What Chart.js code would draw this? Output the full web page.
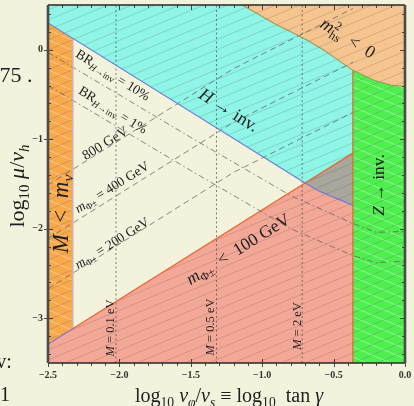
<!DOCTYPE html>
<html lang="en">
<head>
<meta charset="UTF-8">
<title>Parameter space</title>
<script src="https://cdn.jsdelivr.net/npm/chart.js"></script>
<style>
  html, body { margin: 0; padding: 0; background: #f3f2dd; overflow: hidden; }
</style>
</head>
<body>
<canvas id="grafico" width="414" height="406"></canvas>
<script>
// eixos: x = log10 tan(gamma), y = log10 mu/v_h
const limitesX = [-2.5, 0];
const limitesY = [-3.5, 0.5];
const ticksX = [-2.5, -2.0, -1.5, -1.0, -0.5, 0.0];
const ticksY = [-3, -2, -1, 0];

// fronteira H -> inv. (linha azul)
const azulX = [-2.5, -0.70, -0.60, -0.50, -0.42, -0.365];
const azulY = [0.30, -1.49, -1.58, -1.65, -1.70, -1.74];
// fronteira m_phi < 100 GeV (linha vermelha)
const vermelhoX = [-2.325, -0.70, -0.365];
const vermelhoY = [-3.115, -1.49, -1.155];
// fronteira m_hs^2 < 0
const hsX = [-1.14, -0.90, -0.80, -0.684, -0.567, -0.45, -0.364, -0.217, -0.10, 0.0];
const hsY = [0.5, 0.28, 0.20, 0.105, -0.005, -0.135, -0.23, -0.34, -0.395, -0.41];
// Z -> inv. e M < m_nu
const zX = -0.365;
const faixaX = [-2.5, -2.325, -2.325, -2.5];
const faixaY = [0.30, 0.126, -3.115, -3.29];
// sobreposicao (cinza)
const cinzaX = [-0.70, -0.365, -0.365, -0.42, -0.50, -0.60];
const cinzaY = [-1.49, -1.155, -1.74, -1.70, -1.65, -1.58];

// linhas de M constante
const massasM = ['0.1', '0.5', '2'];
const massasX = [-2.024, -1.32, -0.72];

// linhas de m_phi constante
const mphi200X = [-2.5, -1.2, -0.365];
const mphi200Y = [-2.67, -1.37, -0.70];
const mphi400X = [-2.5, -1.2, -0.365];
const mphi400Y = [-2.11, -0.81, -0.14];
const mphi800X = [-2.5, -1.2, -0.365];
const mphi800Y = [-1.51, -0.21, 0.46];

// BR(H -> inv)
const br10X = [-2.5, -1.5, -0.8, -0.365, -0.2, 0.0];
const br10Y = [-0.03, -0.98, -1.63, -1.94, -2.04, -2.03];
const br1X = [-2.5, -1.5, -0.8, -0.365, -0.2, 0.0];
const br1Y = [-0.40, -1.35, -2.0, -2.30, -2.38, -2.36];

function pontos(xs, ys) {
    return xs.map(function (x, i) { return { x: x, y: ys[i] }; });
}

function hachura(base, malha) {
    const w = 24, h = 10;
    const c = document.createElement('canvas');
    c.width = w; c.height = h;
    const g = c.getContext('2d');
    g.fillStyle = base;
    g.fillRect(0, 0, w, h);
    if (malha) {
        g.strokeStyle = 'rgba(255,255,255,0.45)';
        g.lineWidth = 0.8;
        for (const dy of [-h, 0, h]) {
            g.beginPath(); g.moveTo(0, dy); g.lineTo(w, h + dy); g.stroke();
        }
    }
    g.strokeStyle = 'rgba(80,80,80,0.25)';
    g.lineWidth = 0.8;
    for (const dy of [-h, 0, h]) {
        g.beginPath(); g.moveTo(0, h + dy); g.lineTo(w, dy); g.stroke();
    }
    return g.createPattern(c, 'repeat');
}

function regiao(dados, cor, ordem) {
    return { data: dados, showLine: true, fill: 'shape', backgroundColor: cor, borderWidth: 0, pointRadius: 0, order: ordem };
}

function linha(dados, cor, largura, traco, ordem) {
    return { data: dados, showLine: true, fill: false, borderColor: cor, borderWidth: largura, borderDash: traco, pointRadius: 0, order: ordem };
}

const datasets = [];
// regioes (ordem maior = desenhada antes)
datasets.push(regiao(pontos([limitesX[0], zX], [limitesY[1], limitesY[1]]).concat(pontos(azulX, azulY).reverse()), hachura('#8ff5e7', false), 30));
datasets.push(regiao(pontos([limitesX[0], zX, zX, faixaX[3]], [limitesY[0], limitesY[0], vermelhoY[2], faixaY[3]]), hachura('#f3a797', false), 29));
datasets.push(regiao(pontos(cinzaX, cinzaY), hachura('#a9a69c', false), 28));
datasets.push(regiao(pontos([zX, limitesX[1], limitesX[1], zX], [limitesY[0], limitesY[0], limitesY[1], limitesY[1]]), hachura('#50ef50', true), 27));
datasets.push(regiao(pontos(hsX, hsY).concat([{ x: limitesX[1], y: limitesY[1] }]), hachura('#f6c48e', false), 26));
datasets.push(regiao(pontos(faixaX, faixaY), hachura('#f9a94a', true), 25));

// linhas de referencia
massasX.forEach(function (x) {
    datasets.push(linha(pontos([x, x], limitesY), 'rgba(70,70,70,0.75)', 0.9, [2, 2.5], 15));
});
[[mphi200X, mphi200Y], [mphi400X, mphi400Y], [mphi800X, mphi800Y]].forEach(function (l) {
    datasets.push(linha(pontos(l[0], l[1]), 'rgba(90,90,90,0.8)', 0.9, [6, 4], 14));
});
[[br10X, br10Y], [br1X, br1Y]].forEach(function (l) {
    datasets.push(linha(pontos(l[0], l[1]), 'rgba(90,90,90,0.8)', 0.9, [6, 3, 1.5, 3], 14));
});

// bordas
datasets.push(linha(pontos(vermelhoX, vermelhoY), '#f0602a', 1.2, [], 5));
datasets.push(linha(pontos([faixaX[3], faixaX[2]], [faixaY[3], faixaY[2]]), '#8a72c4', 1.2, [], 5));
datasets.push(linha(pontos([faixaX[1], faixaX[2]], [faixaY[1], faixaY[2]]), '#bdb8d4', 1.2, [], 5));
datasets.push(linha(pontos(azulX, azulY), '#6b7fd6', 1.2, [], 4));
datasets.push(linha(pontos([zX, zX], [limitesY[0], -0.23]), '#e8642c', 1.2, [], 4));
datasets.push(linha(pontos(hsX, hsY), '#a39a55', 1.1, [], 4));

// textos dentro do grafico (pixel do centro, angulo em graus)
const rotulos = [
    { partes: [['BR', 'r'], ['H', 'bi'], ['→inv', 'b'], [' = 10%', 'r']], x: 113, y: 75, ang: 32, tam: 13.5 },
    { partes: [['BR', 'r'], ['H', 'bi'], ['→inv', 'b'], [' = 1%', 'r']], x: 113, y: 110, ang: 32, tam: 13.5 },
    { partes: [['800 GeV', 'r']], x: 105, y: 143, ang: -32, tam: 14 },
    { partes: [['m', 'i'], ['Φ±', 'b'], [' = 400 GeV', 'r']], x: 112, y: 187, ang: -32, tam: 13.5 },
    { partes: [['m', 'i'], ['Φ±', 'b'], [' = 200 GeV', 'r']], x: 112, y: 243, ang: -32, tam: 13.5 },
    { partes: [['m', 'i'], ['Φ±', 'b'], ['  <  100 GeV', 'r']], x: 238, y: 249, ang: -32, tam: 17.5 },
    { partes: [['H', 'i'], [' → inv.', 'r']], x: 229, y: 110, ang: 32, tam: 18 },
    { partes: [['m', 'i'], ['2', 'p0'], ['hs', 'b'], ['  <  0', 'r']], x: 348, y: 38, ang: 32, tam: 18 },
    { partes: [['Z', 'i'], [' → inv.', 'r']], x: 378, y: 185, ang: -90, tam: 17.5 },
    { partes: [['M', 'i'], ['  <  ', 'r'], ['m', 'i'], ['ν', 'bi']], x: 61, y: 214, ang: -90, tam: 23 },
    { partes: [['M', 'i'], [' = ' + massasM[0] + ' eV', 'r']], x: 110, y: 328, ang: -90, tam: 12.5 },
    { partes: [['M', 'i'], [' = ' + massasM[1] + ' eV', 'r']], x: 210, y: 327, ang: -90, tam: 12.5 },
    { partes: [['M', 'i'], [' = ' + massasM[2] + ' eV', 'r']], x: 297, y: 326, ang: -90, tam: 12.5 },
    { partes: [['log', 'r'], ['10', 'b'], [' μ', 'i'], ['/', 'r'], ['v', 'i'], ['h', 'bi']], x: 17, y: 186, ang: -90, tam: 22 },
    { partes: [['log', 'r'], ['10', 'b'], [' v', 'i'], ['φ', 'bi'], ['/', 'r'], ['v', 'i'], ['s', 'bi'], [' ≡ log', 'r'], ['10', 'b'], ['  tan ', 'r'], ['γ', 'i']], x: 229, y: 396, ang: 0, tam: 20 },
    // restos do texto da pagina
    { partes: [['75 .', 'r']], x: 16, y: 75, ang: 0, tam: 22 },
    { partes: [['v:', 'r']], x: 4, y: 362, ang: 0, tam: 20 },
    { partes: [['1', 'r']], x: 5, y: 395, ang: 0, tam: 20 }
];

function desenharTexto(ctx, partes, cx, cy, ang, tam) {
    const fam = '"Liberation Serif", "DejaVu Serif", serif';
    function fonte(st) {
        const it = st.indexOf('i') >= 0 ? 'italic ' : '';
        const sz = (st[0] === 'b' || st[0] === 'p') ? tam * 0.68 : tam;
        return it + sz.toFixed(1) + 'px ' + fam;
    }
    ctx.save();
    let w = 0;
    const med = partes.map(function (p) {
        ctx.font = fonte(p[1]);
        const m = ctx.measureText(p[0]).width;
        if (p[1] !== 'p0') w += m;
        return m;
    });
    ctx.translate(cx, cy);
    ctx.rotate(ang * Math.PI / 180);
    ctx.fillStyle = '#1e1e1e';
    ctx.textBaseline = 'alphabetic';
    ctx.textAlign = 'left';
    let x = -w / 2;
    const base = tam * 0.32;
    partes.forEach(function (p, i) {
        ctx.font = fonte(p[1]);
        let dy = 0;
        if (p[1][0] === 'b') dy = tam * 0.22;
        if (p[1][0] === 'p') dy = -tam * 0.38;
        ctx.fillText(p[0], x, base + dy);
        if (p[1] !== 'p0') x += med[i];
    });
    ctx.restore();
}

const moldura = {
    id: 'moldura',
    beforeDraw(chart) {
        const ctx = chart.ctx;
        ctx.save();
        ctx.fillStyle = '#f3f2dd';
        ctx.fillRect(0, 0, chart.width, chart.height);
        ctx.restore();
    },
    afterDraw(chart) {
        const ctx = chart.ctx;
        const a = chart.chartArea;
        const sx = chart.scales.x, sy = chart.scales.y;
        ctx.save();
        ctx.strokeStyle = '#222';
        ctx.lineWidth = 0.8;
        // ticks x a cada 0.1
        for (let i = 0; i <= 25; i++) {
            const v = -2.5 + i * 0.1;
            const px = Math.round(sx.getPixelForValue(v)) + 0.5;
            const maior = i % 5 === 0;
            ctx.beginPath();
            ctx.moveTo(px, a.bottom); ctx.lineTo(px, a.bottom + (maior ? 4 : 3));
            ctx.moveTo(px, a.top); ctx.lineTo(px, a.top + (maior ? 5 : 3));
            if (maior) { ctx.moveTo(px, a.bottom); ctx.lineTo(px, a.bottom - 4); }
            ctx.stroke();
        }
        // ticks y a cada 0.2
        for (let i = 0; i <= 20; i++) {
            const v = -3.4 + i * 0.2;
            if (v > 0.45) break;
            const py = Math.round(sy.getPixelForValue(v)) + 0.5;
            const maior = Math.abs(v - Math.round(v)) < 1e-6;
            const t = maior ? 5 : 3;
            ctx.beginPath();
            ctx.moveTo(a.left, py); ctx.lineTo(a.left + t, py);
            if (maior) { ctx.moveTo(a.left, py); ctx.lineTo(a.left - 4, py); }
            ctx.moveTo(a.right, py); ctx.lineTo(a.right - t, py);
            ctx.stroke();
        }
        // moldura
        ctx.strokeStyle = '#2a2a2a';
        ctx.lineWidth = 1.3;
        ctx.beginPath();
        ctx.moveTo(a.left, a.top); ctx.lineTo(a.right, a.top);
        ctx.moveTo(a.left, a.bottom); ctx.lineTo(a.right, a.bottom);
        ctx.stroke();
        ctx.strokeStyle = '#4a4a4a';
        ctx.lineWidth = 2.6;
        ctx.beginPath();
        ctx.moveTo(a.left, a.top); ctx.lineTo(a.left, a.bottom);
        ctx.moveTo(a.right, a.top); ctx.lineTo(a.right, a.bottom);
        ctx.stroke();
        ctx.restore();
        rotulos.forEach(function (r) { desenharTexto(ctx, r.partes, r.x, r.y, r.ang, r.tam); });
    }
};

const fonteTicks = { family: 'Liberation Serif', size: 10, weight: 'bold' };

new Chart(document.getElementById('grafico'), {
    type: 'scatter',
    data: { datasets: datasets },
    options: {
        responsive: false,
        animation: false,
        devicePixelRatio: 1,
        layout: { padding: { left: 0, right: 9, top: 5, bottom: 0 } },
        plugins: { legend: { display: false }, tooltip: { enabled: false } },
        elements: { point: { radius: 0 }, line: { tension: 0 } },
        scales: {
            x: {
                type: 'linear', min: limitesX[0], max: limitesX[1],
                afterFit: function (s) { s.height = 43; s.paddingLeft = 0; s.paddingRight = 0; },
                afterBuildTicks: function (s) { s.ticks = ticksX.map(function (v) { return { value: v }; }); },
                grid: { display: false }, border: { display: false },
                ticks: {
                    padding: -2, color: '#333', font: fonteTicks, maxRotation: 0, autoSkip: false,
                    callback: function (v) { return Number(v).toFixed(1).replace('-', '−'); }
                }
            },
            y: {
                type: 'linear', min: limitesY[0], max: limitesY[1],
                afterFit: function (s) { s.width = 48; s.paddingTop = 0; s.paddingBottom = 0; },
                afterBuildTicks: function (s) { s.ticks = ticksY.map(function (v) { return { value: v }; }); },
                grid: { display: false }, border: { display: false },
                ticks: {
                    padding: -3, color: '#333', font: fonteTicks, autoSkip: false,
                    callback: function (v) { return String(v).replace('-', '−'); }
                }
            }
        }
    },
    plugins: [moldura]
});
</script>
</body>
</html>
